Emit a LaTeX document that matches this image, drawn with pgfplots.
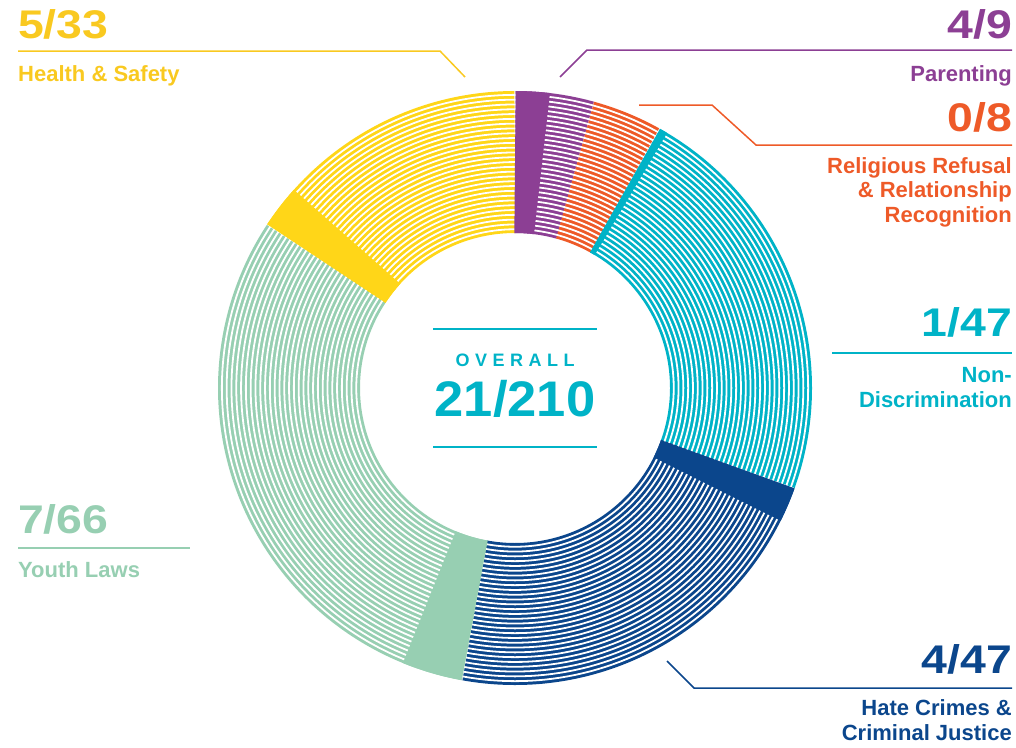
\documentclass[border=0pt]{standalone}
\usepackage{fontspec}
\setmainfont{Liberation Sans}
\usepackage{graphicx}
\usepackage{pgfplots}
\pgfplotsset{compat=1.18}

\definecolor{cpar}{HTML}{8C3F94}
\definecolor{crel}{HTML}{EE5A28}
\definecolor{cnon}{HTML}{00B3C7}
\definecolor{chat}{HTML}{0B468C}
\definecolor{cyou}{HTML}{97CFB2}
\definecolor{chea}{HTML}{FFD618}
\definecolor{cheat}{HTML}{F9C920}

\newcommand{\bignum}[1]{{\fontsize{40}{40}\selectfont\bfseries\scalebox{1.16}[1]{#1}}}
\newcommand{\lab}{\fontsize{22}{24}\selectfont\bfseries}

% ring geometry (units: 1 = 1/210 of the circle), centre (515,388), mid radius 226, width 142
\begin{document}
\begin{tikzpicture}
\begin{axis}[
  width=1016pt, height=747pt, scale only axis,
  xmin=0, xmax=1016, ymin=0, ymax=747, y dir=reverse,
  hide axis, clip=false,
  every axis plot/.append style={line cap=butt},
]
\path (axis cs:0,0) rectangle (axis cs:1016,747);

% ---- whole category sectors (start unit : end unit); totals 9, 8, 47, 47, 66, 33
\addplot[cpar, line width=142pt, domain=0:9,    samples=30]  ({515+226*sin(x*12/7)},{388-226*cos(x*12/7)});
\addplot[crel, line width=142pt, domain=9:17,   samples=30]  ({515+226*sin(x*12/7)},{388-226*cos(x*12/7)});
\addplot[cnon, line width=142pt, domain=17:64,  samples=120] ({515+226*sin(x*12/7)},{388-226*cos(x*12/7)});
\addplot[chat, line width=142pt, domain=64:111, samples=120] ({515+226*sin(x*12/7)},{388-226*cos(x*12/7)});
\addplot[cyou, line width=142pt, domain=111:177,samples=160] ({515+226*sin(x*12/7)},{388-226*cos(x*12/7)});
\addplot[chea, line width=142pt, domain=177:210,samples=80]  ({515+226*sin(x*12/7)},{388-226*cos(x*12/7)});

% ---- white gaps between the concentric stripes
\pgfplotsinvokeforeach{0,...,28}{
  \addplot[white, line width=1.8pt, domain=0:360, samples=241] ({515+(158.75+4.8*#1)*sin(x)},{388-(158.75+4.8*#1)*cos(x)});
}

% ---- achieved (solid) parts: 4/9, 0/8, 1/47, 4/47, 7/66, 5/33
\addplot[cpar, line width=142pt, domain=0:4,     samples=15] ({515+226*sin(x*12/7)},{388-226*cos(x*12/7)});
\addplot[cnon, line width=142pt, domain=17:18,   samples=6]  ({515+226*sin(x*12/7)},{388-226*cos(x*12/7)});
\addplot[chat, line width=142pt, domain=64:68,   samples=15] ({515+226*sin(x*12/7)},{388-226*cos(x*12/7)});
\addplot[cyou, line width=142pt, domain=111:118, samples=20] ({515+226*sin(x*12/7)},{388-226*cos(x*12/7)});
\addplot[chea, line width=142pt, domain=177:182, samples=15] ({515+226*sin(x*12/7)},{388-226*cos(x*12/7)});

% ---- leader lines
\addplot[cheat, line width=1.5pt] coordinates {(18,51) (440,51) (465,77)};
\addplot[cpar,  line width=1.5pt] coordinates {(560,77) (587,50) (1012,50)};
\addplot[crel,  line width=1.5pt] coordinates {(639,105) (712,105) (756,145) (1012,145)};
\addplot[cnon,  line width=1.5pt] coordinates {(832,353) (1012,353)};
\addplot[chat,  line width=1.5pt] coordinates {(667,661) (694,688) (1012,688)};
\addplot[cyou,  line width=1.5pt] coordinates {(18,548) (190,548)};
\addplot[cnon,  line width=2pt]   coordinates {(433,329) (597,329)};
\addplot[cnon,  line width=2pt]   coordinates {(433,447) (597,447)};

% ---- labels
\node[anchor=base west, inner sep=0, text=cheat] at (axis cs:18,38)  {\bignum{5/33}};
\node[anchor=base west, inner sep=0, text=cheat] at (axis cs:18,81)  {\lab Health \& Safety};
\node[anchor=base east, inner sep=0, text=cpar]  at (axis cs:1012,38) {\bignum{4/9}};
\node[anchor=base east, inner sep=0, text=cpar]  at (axis cs:1012,81) {\lab Parenting};
\node[anchor=base east, inner sep=0, text=crel]  at (axis cs:1012,131) {\bignum{0/8}};
\node[anchor=base east, inner sep=0, text=crel]  at (axis cs:1012,173) {\lab Religious Refusal};
\node[anchor=base east, inner sep=0, text=crel]  at (axis cs:1012,197) {\lab \& Relationship};
\node[anchor=base east, inner sep=0, text=crel]  at (axis cs:1012,222) {\lab Recognition};
\node[anchor=base east, inner sep=0, text=cnon]  at (axis cs:1012,336) {\bignum{1/47}};
\node[anchor=base east, inner sep=0, text=cnon]  at (axis cs:1012,382) {\lab Non-};
\node[anchor=base east, inner sep=0, text=cnon]  at (axis cs:1012,407) {\lab Discrimination};
\node[anchor=base east, inner sep=0, text=chat]  at (axis cs:1012,673) {\bignum{4/47}};
\node[anchor=base east, inner sep=0, text=chat]  at (axis cs:1012,715) {\lab Hate Crimes \&};
\node[anchor=base east, inner sep=0, text=chat]  at (axis cs:1012,740) {\lab Criminal Justice};
\node[anchor=base west, inner sep=0, text=cyou]  at (axis cs:18,533) {\bignum{7/66}};
\node[anchor=base west, inner sep=0, text=cyou]  at (axis cs:18,577) {\lab Youth Laws};
\node[anchor=base, inner sep=0, text=cnon] at (axis cs:515,366)
  {\fontsize{18}{18}\selectfont\bfseries O\kern5.5pt V\kern5.5pt E\kern5.5pt R\kern5.5pt A\kern5.5pt L\kern5.5pt L};
\node[anchor=base, inner sep=0, text=cnon] at (axis cs:515,416)
  {\fontsize{50}{50}\selectfont\bfseries\scalebox{1.05}[1]{21/210}};
\end{axis}
\end{tikzpicture}
\end{document}
